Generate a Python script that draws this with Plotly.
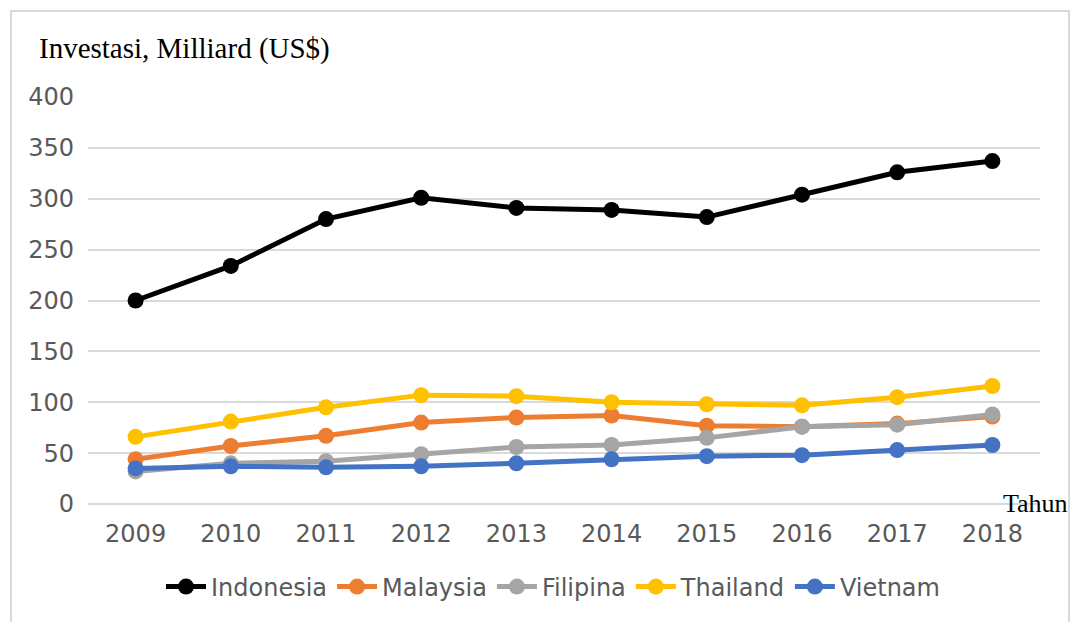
import plotly.graph_objects as go

years = ["2009", "2010", "2011", "2012", "2013", "2014", "2015", "2016", "2017", "2018"]
indonesia = [200, 234, 280, 301, 291, 289, 282, 304, 326, 337]
malaysia = [44, 57, 67, 80, 85, 87, 77, 76, 79, 86]
filipina = [32, 40, 42, 49, 56, 58, 65, 76, 78, 88]
thailand = [66, 81, 95, 107, 106, 100, 98, 97, 105, 116]
vietnam = [35, 37, 36, 37, 40, 44, 47, 48, 53, 58]

series = [
    ("Indonesia", indonesia, "#000000"),
    ("Malaysia", malaysia, "#ED7D31"),
    ("Filipina", filipina, "#A5A5A5"),
    ("Thailand", thailand, "#FFC000"),
    ("Vietnam", vietnam, "#4472C4"),
]

fig = go.Figure()
for name, vals, color in series:
    fig.add_trace(go.Scatter(
        x=years, y=vals, name=name, mode="lines+markers",
        line=dict(color=color, width=5),
        marker=dict(color=color, size=16),
    ))

W, H = 1072, 622
PL, PR, PT, PB = 88, 1040, 97, 504  # plot area in page pixels
L, T, R, B = PL, PT, W - PR, H - PB
pw, ph = PR - PL, PB - PT

def px(x):
    return (x - PL) / pw

def py(y):
    return (PB - y) / ph

fig.update_layout(
    width=W, height=H,
    margin=dict(l=L, r=R, t=T, b=B, pad=0),
    paper_bgcolor="#ffffff", plot_bgcolor="#ffffff",
    font=dict(family="DejaVu Sans", color="#595959"),
    showlegend=True,
    legend=dict(orientation="h", x=px(553), xanchor="center", y=py(587), yanchor="middle",
                font=dict(size=24, color="#595959"), itemwidth=40, tracegroupgap=0,
                bgcolor="rgba(0,0,0,0)"),
    xaxis=dict(type="category", showgrid=False, zeroline=False, showline=False,
               ticks="", tickfont=dict(size=24, color="#595959"),
               ticklabelstandoff=13, range=[-0.5, 9.5]),
    yaxis=dict(range=[0, 400], dtick=50, showgrid=True, gridcolor="#d9d9d9", gridwidth=2,
               zeroline=True, zerolinecolor="#d9d9d9", zerolinewidth=2, showline=False,
               ticks="", tickfont=dict(size=24, color="#595959"), ticklabelstandoff=13),
    annotations=[
        dict(text="Investasi, Milliard (US$)", xref="paper", yref="paper",
             x=px(37), y=py(48), xanchor="left", yanchor="middle", showarrow=False,
             font=dict(family="Liberation Serif", size=29, color="#000000")),
        dict(text="Tahun", xref="paper", yref="paper",
             x=px(1070), y=py(503), xanchor="right", yanchor="middle", showarrow=False,
             font=dict(family="Liberation Serif", size=26, color="#000000")),
    ],
    shapes=[
        dict(type="rect", xref="paper", yref="paper",
             x0=px(11), x1=px(1069), y0=py(640), y1=py(11),
             line=dict(color="#d9d9d9", width=2), fillcolor="rgba(0,0,0,0)", layer="below"),
    ],
)

fig.write_html(
    "out.html",
    config={"displayModeBar": False},
    default_width=f"{W}px", default_height=f"{H}px",
    post_script="document.body.style.margin='0';document.body.style.overflow='hidden';",
)
